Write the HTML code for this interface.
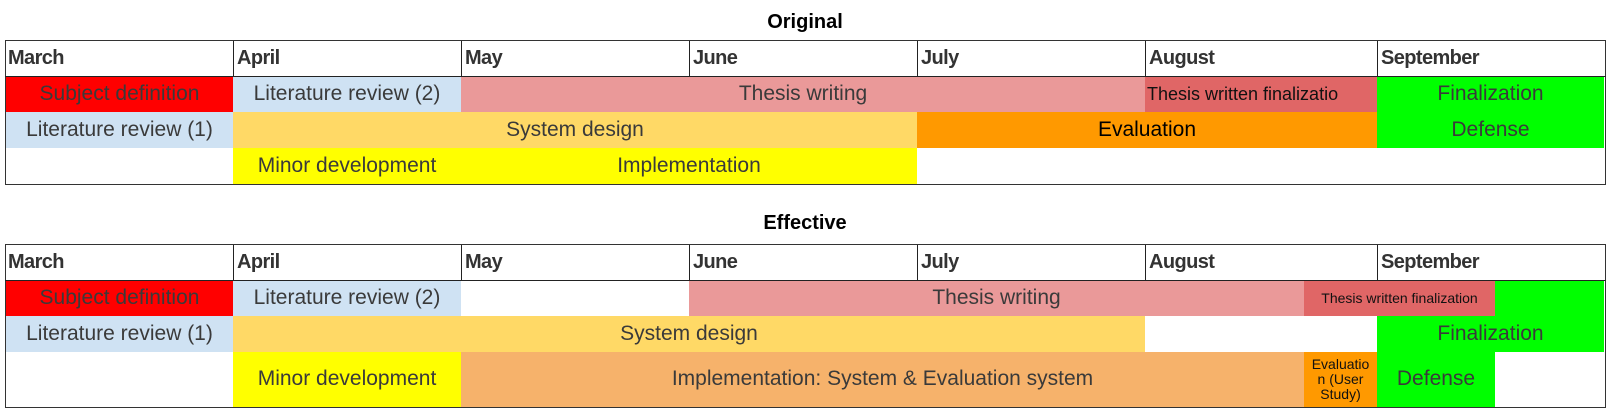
<!DOCTYPE html>
<html><head><style>
body{margin:0;width:1611px;height:414px;background:#fff;position:relative;font-family:"Liberation Sans",Arial,sans-serif;overflow:hidden}
.t{position:absolute;font-weight:bold;font-size:20px;color:#000;text-align:center;width:200px}
.b{position:absolute;border:1.5px solid #333;box-sizing:border-box}
.h{position:absolute;box-sizing:border-box;border-left:1.5px solid #222;font-weight:bold;font-size:20px;color:#333;padding-left:3px;display:flex;align-items:center;letter-spacing:-0.6px}
.c{position:absolute;display:flex;align-items:center;justify-content:center;font-size:21px;color:#3a3a3a;white-space:nowrap;overflow:hidden;text-align:center;line-height:1.05}
.hl{position:absolute;height:1.5px;background:#222}
</style></head><body>
<div class="t" style="left:705px;top:11px">Original</div>
<div class="b" style="left:5px;top:40px;width:1601px;height:145px"></div>
<div class="h" style="left:5px;top:41px;width:228px;height:35px;border-left:none">March</div>
<div class="h" style="left:233px;top:41px;width:228px;height:35px">April</div>
<div class="h" style="left:461px;top:41px;width:228px;height:35px">May</div>
<div class="h" style="left:689px;top:41px;width:228px;height:35px">June</div>
<div class="h" style="left:917px;top:41px;width:228px;height:35px">July</div>
<div class="h" style="left:1145px;top:41px;width:232px;height:35px">August</div>
<div class="h" style="left:1377px;top:41px;width:228px;height:35px">September</div>
<div class="hl" style="left:5px;top:75.5px;width:1601px"></div>

<div class="c" style="left:6px;top:77px;width:227px;height:35px;background:#ff0000">Subject definition</div>
<div class="c" style="left:233px;top:77px;width:228px;height:35px;background:#cfe2f3">Literature review (2)</div>
<div class="c" style="left:461px;top:77px;width:684px;height:35px;background:#ea9999">Thesis writing</div>
<div class="c" style="left:1145px;top:77px;width:232px;height:35px;background:#e06666;color:#111;font-size:18px;justify-content:flex-start;padding-left:2px;box-sizing:border-box">Thesis written finalizatio</div>
<div class="c" style="left:1377px;top:77px;width:227px;height:35px;background:#00ff00">Finalization</div>

<div class="c" style="left:6px;top:112px;width:227px;height:36px;background:#cfe2f3">Literature review (1)</div>
<div class="c" style="left:233px;top:112px;width:684px;height:36px;background:#ffd966">System design</div>
<div class="c" style="left:917px;top:112px;width:460px;height:36px;background:#ff9900;color:#000">Evaluation</div>
<div class="c" style="left:1377px;top:112px;width:227px;height:36px;background:#00ff00">Defense</div>

<div class="c" style="left:233px;top:148px;width:228px;height:35.5px;background:#ffff00">Minor development</div>
<div class="c" style="left:461px;top:148px;width:456px;height:35.5px;background:#ffff00">Implementation</div>

<div class="t" style="left:705px;top:212px">Effective</div>
<div class="b" style="left:5px;top:244px;width:1601px;height:164px"></div>
<div class="h" style="left:5px;top:245px;width:228px;height:35px;border-left:none">March</div>
<div class="h" style="left:233px;top:245px;width:228px;height:35px">April</div>
<div class="h" style="left:461px;top:245px;width:228px;height:35px">May</div>
<div class="h" style="left:689px;top:245px;width:228px;height:35px">June</div>
<div class="h" style="left:917px;top:245px;width:228px;height:35px">July</div>
<div class="h" style="left:1145px;top:245px;width:232px;height:35px">August</div>
<div class="h" style="left:1377px;top:245px;width:228px;height:35px">September</div>
<div class="hl" style="left:5px;top:279.5px;width:1601px"></div>

<div class="c" style="left:6px;top:281px;width:227px;height:35px;background:#ff0000">Subject definition</div>
<div class="c" style="left:233px;top:281px;width:228px;height:35px;background:#cfe2f3">Literature review (2)</div>
<div class="c" style="left:689px;top:281px;width:615px;height:35px;background:#ea9999">Thesis writing</div>
<div class="c" style="left:1304px;top:281px;width:191px;height:35px;background:#e06666;color:#111;font-size:14px">Thesis written finalization</div>
<div class="c" style="left:1495px;top:281px;width:109px;height:35px;background:#00ff00"></div>

<div class="c" style="left:6px;top:316px;width:227px;height:36px;background:#cfe2f3">Literature review (1)</div>
<div class="c" style="left:233px;top:316px;width:912px;height:36px;background:#ffd966">System design</div>
<div class="c" style="left:1377px;top:316px;width:227px;height:36px;background:#00ff00">Finalization</div>

<div class="c" style="left:233px;top:352px;width:228px;height:54.5px;background:#ffff00">Minor development</div>
<div class="c" style="left:461px;top:352px;width:843px;height:54.5px;background:#f6b26b">Implementation: System &amp; Evaluation system</div>
<div class="c" style="left:1304px;top:352px;width:73px;height:54.5px;background:#ff9900;color:#111;font-size:14px;line-height:15px">Evaluatio<br>n (User<br>Study)</div>
<div class="c" style="left:1377px;top:352px;width:118px;height:54.5px;background:#00ff00">Defense</div>
</body></html>
